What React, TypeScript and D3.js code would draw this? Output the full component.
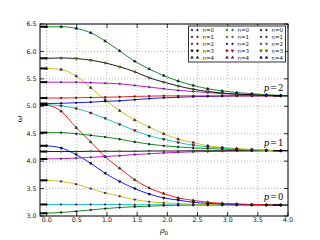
import React from 'react';
import * as d3 from 'd3';

// sample points along rho_0 (where the markers sit)
const rho0 = [0, 0.24, 0.49, 0.73, 0.97, 1.21, 1.46, 1.7, 1.94, 2.18, 2.43, 2.67, 2.91, 3.15, 3.4, 3.64, 3.88];

// p = 0 family
const p0n0 = [3.05, 3.065, 3.085, 3.11, 3.135, 3.155, 3.17, 3.18, 3.19, 3.195, 3.2, 3.2, 3.2, 3.2, 3.2, 3.2, 3.2];
const p0n1 = [3.21, 3.21, 3.21, 3.21, 3.21, 3.21, 3.205, 3.205, 3.205, 3.2, 3.2, 3.2, 3.2, 3.2, 3.2, 3.2, 3.2];
const p0n2 = [3.65, 3.63, 3.58, 3.5, 3.42, 3.36, 3.3, 3.26, 3.24, 3.225, 3.215, 3.21, 3.205, 3.205, 3.2, 3.2, 3.2];
const p0n3 = [4.28, 4.24, 4.12, 3.96, 3.78, 3.63, 3.5, 3.4, 3.33, 3.29, 3.25, 3.23, 3.22, 3.21, 3.205, 3.2, 3.2];
const p0n4 = [5.03, 4.91, 4.61, 4.35, 4.08, 3.87, 3.66, 3.51, 3.41, 3.33, 3.285, 3.25, 3.23, 3.22, 3.21, 3.205, 3.2];

// p = 1 family
const p1n0 = [4.04, 4.045, 4.055, 4.07, 4.085, 4.1, 4.12, 4.135, 4.15, 4.16, 4.17, 4.175, 4.18, 4.185, 4.185, 4.19, 4.19];
const p1n1 = [4.175, 4.175, 4.175, 4.18, 4.18, 4.18, 4.18, 4.185, 4.185, 4.185, 4.19, 4.19, 4.19, 4.19, 4.19, 4.19, 4.19];
const p1n2 = [4.52, 4.52, 4.5, 4.47, 4.44, 4.4, 4.35, 4.31, 4.28, 4.26, 4.24, 4.23, 4.22, 4.21, 4.2, 4.195, 4.19];
const p1n3 = [5.03, 5.01, 4.96, 4.88, 4.78, 4.67, 4.56, 4.46, 4.4, 4.34, 4.29, 4.26, 4.24, 4.22, 4.21, 4.2, 4.19];
const p1n4 = [5.69, 5.67, 5.55, 5.34, 5.12, 4.92, 4.75, 4.62, 4.5, 4.4, 4.34, 4.28, 4.25, 4.23, 4.21, 4.2, 4.19];

// p = 2 family
const p2n0 = [5.05, 5.055, 5.065, 5.075, 5.09, 5.1, 5.12, 5.14, 5.155, 5.165, 5.175, 5.18, 5.185, 5.19, 5.19, 5.19, 5.19];
const p2n1 = [5.15, 5.15, 5.155, 5.16, 5.165, 5.17, 5.18, 5.185, 5.19, 5.19, 5.19, 5.19, 5.19, 5.19, 5.19, 5.19, 5.19];
const p2n2 = [5.44, 5.44, 5.44, 5.43, 5.42, 5.41, 5.38, 5.35, 5.32, 5.29, 5.27, 5.25, 5.23, 5.22, 5.21, 5.2, 5.195];
const p2n3 = [5.875, 5.88, 5.87, 5.84, 5.79, 5.72, 5.63, 5.52, 5.44, 5.37, 5.31, 5.27, 5.24, 5.22, 5.21, 5.2, 5.19];
const p2n4 = [6.45, 6.45, 6.42, 6.34, 6.19, 6.01, 5.82, 5.68, 5.56, 5.46, 5.38, 5.32, 5.28, 5.25, 5.23, 5.21, 5.2];

const families = [
  [p0n0, p0n1, p0n2, p0n3, p0n4],
  [p1n0, p1n1, p1n2, p1n3, p1n4],
  [p2n0, p2n1, p2n2, p2n3, p2n4],
];

// large rho_0 limit of each family
const asymptotes = [3.2, 4.19, 5.19];
const pLabels = ['0', '1', '2'];
const nLabels = ['n=0', 'n=1', 'n=2', 'n=3', 'n=4'];

const xTicks = [0, 0.5, 1, 1.5, 2, 2.5, 3, 3.5, 4];
const yTicks = [3, 3.5, 4, 4.5, 5, 5.5, 6, 6.5];

// classic matplotlib colours
const C = { b: '#0000ff', g: '#008000', r: '#ff0000', c: '#00bfbf', m: '#bf00bf', y: '#bfbf00', k: '#000000' };
const lineColors = [
  [C.g, C.c, C.y, C.b, C.r],
  [C.m, C.k, C.g, C.c, C.y],
  [C.b, C.r, C.m, C.k, C.g],
];
const markerColors = [
  [C.b, C.r, C.m, C.k, C.g],
  [C.c, C.y, C.b, C.r, C.m],
  [C.k, C.g, C.c, C.y, C.b],
];

const W = 320;
const H = 240;
const x = d3.scaleLinear().domain([-0.11, 4.0]).range([40, 288]);
const y = d3.scaleLinear().domain([3.0, 6.5]).range([216, 24]);

const circle = d3.symbol().type(d3.symbolCircle).size(2.2)();
const tri = d3.symbol().type(d3.symbolTriangle).size(3)();

function Marker({ n, cx, cy, fill }) {
  const d = n < 3 ? circle : tri;
  const rot = n === 3 ? 180 : 0;
  return (
    <path d={d} transform={`translate(${cx},${cy}) rotate(${rot})`}
      fill={fill} stroke="#000" strokeWidth={0.5} />
  );
}

export default function App() {
  const line = d3.line<number>()
    .x((_, i) => x(rho0[i]))
    .y(d => y(d))
    .curve(d3.curveMonotoneX);

  const legendCols = [190.5, 225.5, 259.5];
  const legendRows = [30, 36.9, 43.8, 50.7, 57.6];

  return (
    <svg width={W} height={H} style={{ position: 'absolute', left: 0, top: 0, background: '#fff' }}
      fontFamily="DejaVu Sans">
      {/* grid */}
      <g stroke="#888" strokeWidth={0.6} strokeDasharray="1,2">
        {xTicks.map(t => <line key={'gx' + t} x1={x(t)} x2={x(t)} y1={24} y2={216} />)}
        {yTicks.map(t => <line key={'gy' + t} x1={40} x2={288} y1={y(t)} y2={y(t)} />)}
      </g>

      {/* curves */}
      {families.map((fam, p) => fam.map((vals, n) => (
        <path key={`l${p}${n}`} d={line(vals)} fill="none" stroke={lineColors[p][n]} strokeWidth={0.9} />
      )))}

      {/* markers */}
      {families.map((fam, p) => fam.map((vals, n) => vals.map((v, i) => (
        <Marker key={`m${p}${n}${i}`} n={n} cx={x(rho0[i])} cy={y(v)} fill={markerColors[p][n]} />
      ))))}

      {/* rho_0 = 0 values and asymptotic values */}
      {families.map((fam, p) => fam.map((vals, n) => (
        <line key={`s${p}${n}`} x1={x(-0.11)} x2={x(0)} y1={y(vals[0])} y2={y(vals[0])} stroke="#000" strokeWidth={2} />
      )))}
      {asymptotes.map((a, p) => (
        <line key={'a' + p} x1={x(3.75)} x2={x(4)} y1={y(a)} y2={y(a)} stroke="#000" strokeWidth={1.3} />
      ))}

      {/* frame and ticks */}
      <rect x={40} y={24} width={248} height={192} fill="none" stroke="#000" strokeWidth={1} />
      <g stroke="#000" strokeWidth={0.8}>
        {xTicks.map(t => (
          <g key={'tx' + t}>
            <line x1={x(t)} x2={x(t)} y1={216} y2={212} />
            <line x1={x(t)} x2={x(t)} y1={24} y2={28} />
          </g>
        ))}
        {yTicks.map(t => (
          <g key={'ty' + t}>
            <line x1={40} x2={44} y1={y(t)} y2={y(t)} />
            <line x1={288} x2={284} y1={y(t)} y2={y(t)} />
          </g>
        ))}
      </g>
      <g fontSize={6.3} fill="#111">
        {xTicks.map(t => (
          <text key={'lx' + t} x={x(t)} y={222} textAnchor="middle">{d3.format('.1f')(t)}</text>
        ))}
        {yTicks.map(t => (
          <text key={'ly' + t} x={36.5} y={y(t) + 2.2} textAnchor="end">{d3.format('.1f')(t)}</text>
        ))}
      </g>

      {/* axis labels */}
      <text x={164} y={233} textAnchor="middle" fontFamily="DejaVu Serif" fontSize={8} fontStyle="italic">
        ρ<tspan fontSize={5.5} dy={1.5} fontStyle="normal">0</tspan>
      </text>
      <text transform="translate(22,119) rotate(-90)" textAnchor="middle" fontFamily="DejaVu Serif"
        fontSize={8} fontStyle="italic">ω</text>

      {/* family labels */}
      {asymptotes.map((a, p) => (
        <text key={'pl' + p} x={x(3.6)} y={y(a + 0.09)} fontFamily="DejaVu Serif" fontSize={8.5}>
          <tspan fontStyle="italic">p</tspan>
          <tspan dx={0.8}>=</tspan>
          <tspan dx={0.8}>{pLabels[p]}</tspan>
        </text>
      ))}

      {/* legend */}
      <rect x={188.5} y={26} width={97} height={36} fill="#fff" stroke="#333" strokeWidth={1} />
      {legendCols.map((cx, p) => nLabels.map((lab, n) => (
        <g key={`lg${p}${n}`}>
          <Marker n={n} cx={cx + 1.5} cy={legendRows[n]} fill={markerColors[p][n]} />
          <Marker n={n} cx={cx + 7} cy={legendRows[n]} fill={markerColors[p][n]} />
          <text x={cx + 12} y={legendRows[n] + 2} fontSize={5.5} fill="#222">{lab}</text>
        </g>
      )))}
    </svg>
  );
}
